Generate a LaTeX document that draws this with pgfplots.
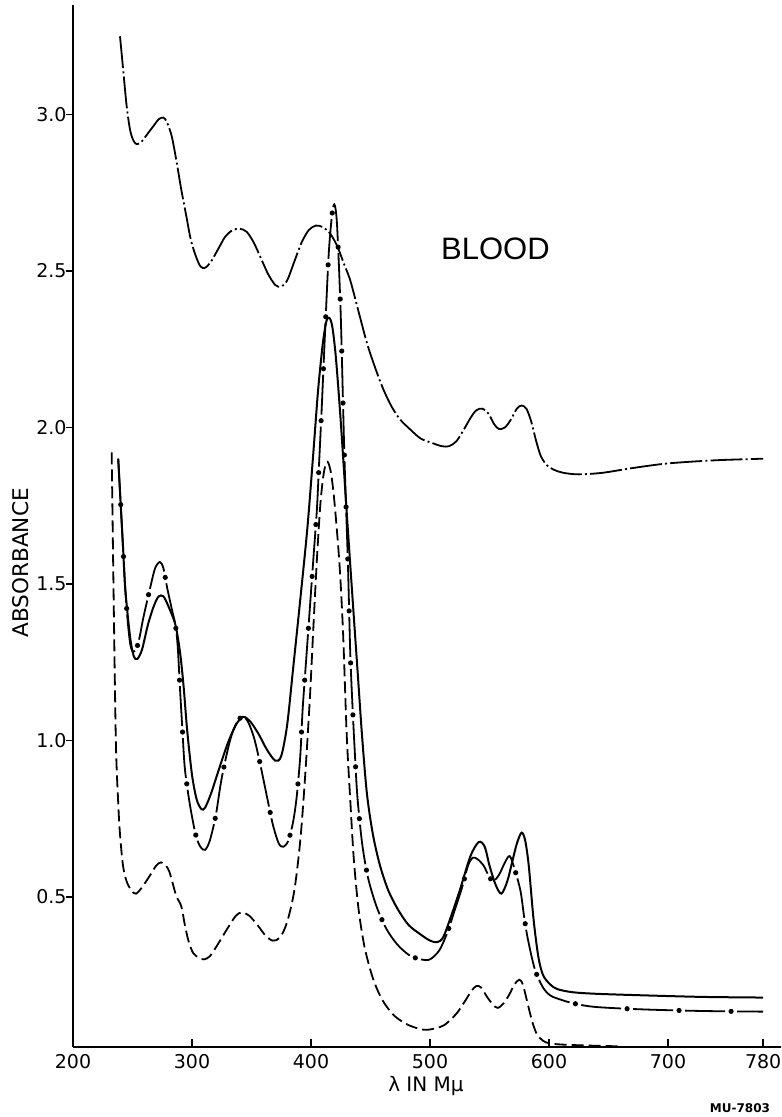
\documentclass[border=0pt]{standalone}
\usepackage{fontspec}
\setmainfont{DejaVu Sans}
\newfontfamily\lib{Liberation Sans}
\usepackage{pgfplots}
\usepackage{pgfplotstable}
\pgfplotsset{compat=1.18}

\pgfplotstableread{
x y
239.5 3.25
242 3.15
245 3.03
248 2.95
251 2.915
254 2.905
258 2.915
263 2.94
268 2.965
272 2.985
276 2.99
279 2.975
283 2.93
287 2.85
291 2.76
295 2.68
299 2.60
303 2.55
307 2.515
311 2.51
316 2.53
322 2.57
328 2.61
334 2.63
340 2.635
346 2.625
352 2.59
358 2.54
364 2.49
370 2.455
375 2.45
380 2.47
386 2.53
392 2.59
398 2.63
404 2.645
410 2.64
416 2.62
422 2.58
428 2.52
433 2.47
440 2.37
447 2.27
454 2.19
461 2.12
468 2.065
475 2.025
483 1.995
492 1.965
502 1.95
510 1.94
516 1.94
522 1.955
528 1.99
534 2.03
539 2.055
544 2.06
549 2.045
554 2.01
558 1.995
563 2.00
568 2.025
573 2.06
577 2.07
581 2.06
585 2.02
589 1.96
593 1.91
598 1.88
604 1.865
612 1.855
625 1.85
645 1.855
670 1.87
700 1.885
740 1.895
780 1.90
}\tabT

\pgfplotstableread{
x y
238 1.90
242 1.62
244 1.48
248 1.33
251 1.27
254 1.26
258 1.29
263 1.37
268 1.43
272 1.46
276 1.46
280 1.43
286 1.37
290 1.28
293 1.17
296 1.03
300 0.89
304 0.81
308 0.78
311 0.785
316 0.83
322 0.90
330 0.99
337 1.05
343 1.075
349 1.06
356 1.02
363 0.97
370 0.935
375 0.95
380 1.05
385 1.23
391 1.45
397 1.68
402 1.92
406 2.12
410 2.27
413 2.34
415.5 2.35
418 2.32
421 2.22
425 2.02
430 1.73
435 1.45
439 1.23
443 1.01
447 0.83
452 0.70
458 0.60
465 0.52
473 0.46
482 0.41
492 0.38
500 0.36
506 0.355
511 0.37
517 0.43
525 0.52
534 0.63
541 0.675
546 0.66
550 0.60
555 0.54
560 0.51
565 0.55
569 0.61
573 0.67
577 0.705
580 0.68
583 0.60
587 0.43
591 0.31
595 0.25
601 0.22
607 0.205
620 0.195
640 0.19
680 0.185
730 0.18
780 0.178
}\tabS

\pgfplotstableread{
x y
238 1.90
242 1.62
244 1.48
246 1.38
248 1.31
250 1.285
253 1.29
256 1.33
259 1.39
265 1.49
269 1.55
273 1.57
276 1.55
279 1.49
283 1.42
286 1.37
288 1.30
290 1.16
292 1.03
294 0.91
298 0.80
303 0.70
307 0.66
311 0.65
315 0.68
320 0.76
325 0.88
332 1.00
338 1.06
343 1.075
347 1.06
352 1.01
357 0.93
363 0.82
368 0.73
373 0.67
377 0.66
381 0.68
385 0.74
388 0.82
391 0.95
393 1.10
396 1.26
399 1.42
402 1.58
405 1.74
407 1.90
409 2.06
412 2.32
415 2.56
418 2.69
420 2.71
422 2.64
425 2.36
428 1.92
431 1.57
433 1.28
435 1.10
437 0.95
439 0.82
443 0.67
448 0.56
455 0.47
463 0.40
472 0.35
482 0.315
492 0.30
500 0.30
508 0.33
515 0.39
521 0.46
527 0.53
532 0.60
536 0.625
540 0.62
545 0.60
549 0.57
553 0.55
558 0.57
563 0.61
567 0.63
571 0.59
576 0.52
579 0.44
582 0.37
588 0.27
595 0.21
601 0.185
607 0.175
620 0.16
639 0.148
680 0.14
730 0.135
780 0.133
}\tabD

\pgfplotstableread{
x y
232.5 1.92
234 1.50
236 1.00
238 0.80
239.5 0.70
242 0.60
245 0.55
249 0.52
253 0.51
258 0.53
265 0.57
270 0.60
274 0.61
278 0.60
281 0.58
284 0.54
287 0.50
291 0.47
294 0.41
297 0.36
301 0.32
306 0.305
310 0.30
315 0.31
322 0.35
330 0.40
337 0.44
342 0.45
348 0.44
355 0.41
362 0.375
368 0.36
374 0.37
380 0.42
386 0.52
391 0.68
395 0.88
399 1.13
402 1.36
405 1.58
408 1.76
411 1.86
414 1.89
417 1.85
420 1.75
424 1.56
427 1.34
430 1.02
433 0.81
436 0.62
440 0.46
445 0.34
452 0.24
460 0.17
470 0.12
482 0.09
495 0.075
505 0.08
512 0.09
518 0.11
523 0.13
530 0.17
535 0.20
539 0.215
543 0.21
548 0.18
553 0.155
557 0.145
562 0.16
567 0.19
571 0.22
575 0.235
578 0.22
582 0.16
586 0.10
590 0.06
595 0.04
600 0.032
610 0.028
630 0.025
660 0.022
}\tabH

\begin{document}
\begin{tikzpicture}
\begin{axis}[
  name=ax,
  scale only axis, width=354pt, height=521pt,
  xmin=200, xmax=795, ymin=0.02, ymax=3.35,
  axis lines=left,
  axis line style={-, line width=1.1pt},
  clip=false,
  xtick={200,300,400,500,600,700,780},
  xticklabels={200,300,400,500,600,700,780},
  ytick={0.5,1.0,1.5,2.0,2.5,3.0},
  yticklabels={0.5,1.0,1.5,2.0,2.5,3.0},
  tick align=inside,
  major tick length=4pt,
  tick style={line width=0.8pt, black},
  every major y tick/.append style={xshift=-3.5pt},
  ticklabel style={font=\fontsize{9.5}{10}\selectfont},
  yticklabel style={anchor=east, xshift=0.3pt},
  xticklabel style={anchor=north, yshift=0pt},
  xlabel={\fontsize{10}{12}\selectfont λ IN Mμ},
  xlabel style={at={(axis description cs:0.4986,-0.0374)}, anchor=center},
  ylabel={\fontsize{10.8}{12}\selectfont ABSORBANCE},
  ylabel style={at={(axis description cs:-0.0734,0.4645)}, anchor=center},
]
\addplot[black, line width=0.9pt, smooth, dash pattern=on 16pt off 1.6pt on 1pt off 1.6pt] table {\tabT};
\addplot[black, line width=1pt, smooth] table {\tabS};
\addplot[black, line width=0.9pt, smooth, dash pattern=on 20pt off 6pt] table {\tabD};
\addplot[black, line width=2.6pt, line cap=round, smooth, dash pattern=on 0pt off 26pt, dash phase=3pt] table {\tabD};
\addplot[black, line width=0.9pt, smooth, dash pattern=on 6pt off 2.5pt] table {\tabH};
\node[font=\lib\fontsize{15.5}{16}\selectfont] at (axis cs:555,2.57) {BLOOD};
\node[font=\bfseries\fontsize{6}{7}\selectfont] at (axis description cs:0.942,-0.0585) {MU-7803};
\end{axis}
\pgfresetboundingbox
\path[use as bounding box] ([xshift=-36.5pt,yshift=-35pt]ax.south west) rectangle ([yshift=2.5pt]ax.north east);
\end{tikzpicture}
\end{document}
